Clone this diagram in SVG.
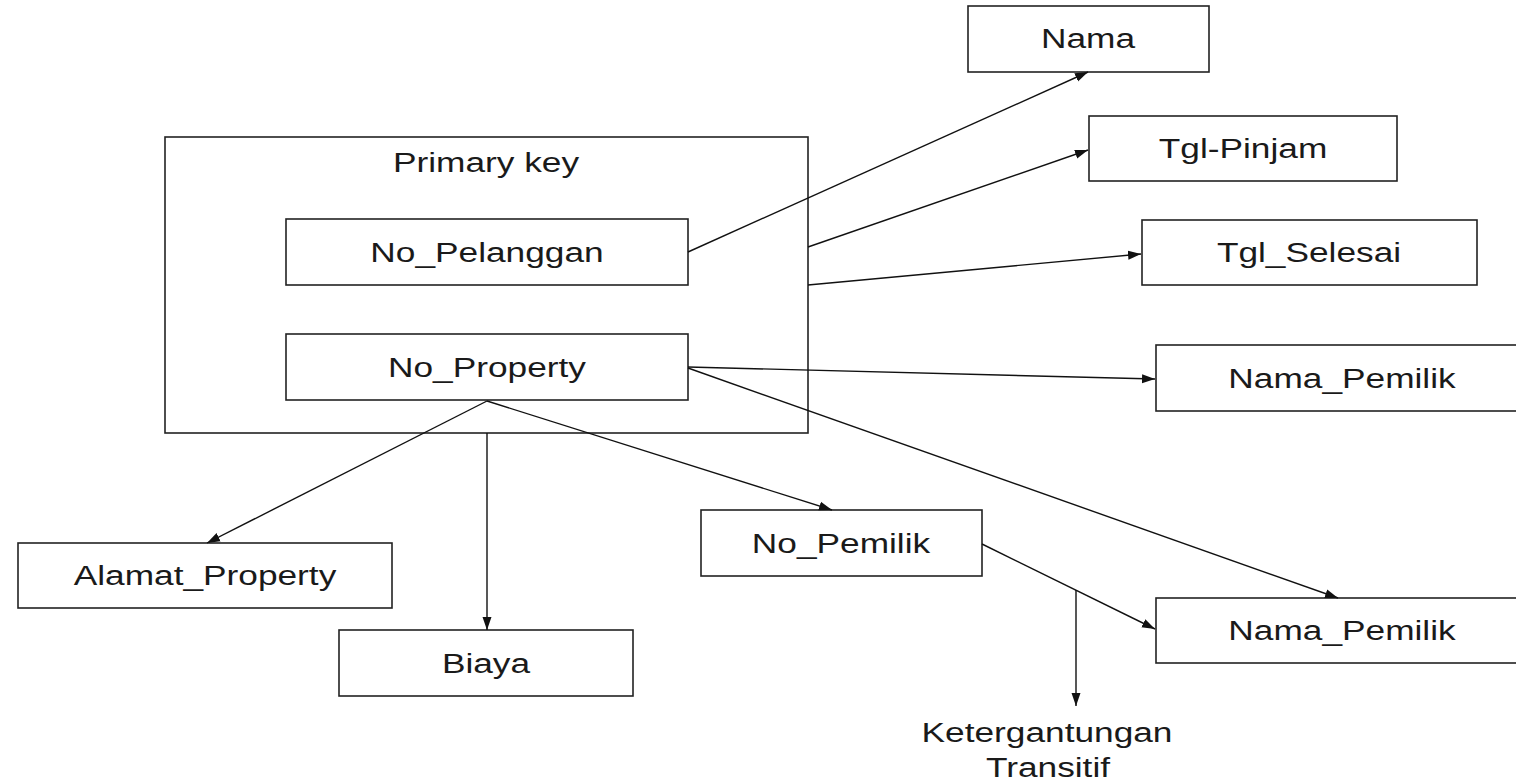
<svg xmlns="http://www.w3.org/2000/svg" width="1516" height="782" viewBox="0 0 1516 782">
<style>
.box{fill:#fff;stroke:#222;stroke-width:1.6}
.lbl{font-family:"Liberation Sans",Arial,sans-serif;font-size:28px;fill:#1a1a1a;text-anchor:middle}
.ln{stroke:#111;stroke-width:1.4;fill:none;marker-end:url(#ah)}
</style>
<defs>
<marker id="ah" markerUnits="userSpaceOnUse" markerWidth="14" markerHeight="10" refX="13" refY="5" orient="auto">
<path d="M0,0.5 L13,5 L0,9.5 z" fill="#111"/>
</marker>
</defs>
<rect width="1516" height="782" fill="#fff"/>
<g id="primary-key">
<rect class="box" x="165" y="137" width="643" height="296"/>
<text class="lbl" transform="translate(486 172) scale(1.26 1)">Primary key</text>
</g>
<g id="no-pelanggan">
<rect class="box" x="286" y="219" width="402" height="66"/>
<text class="lbl" transform="translate(487 262) scale(1.26 1)">No_Pelanggan</text>
</g>
<g id="no-property">
<rect class="box" x="286" y="334" width="402" height="66"/>
<text class="lbl" transform="translate(487 377) scale(1.26 1)">No_Property</text>
</g>
<g id="nama">
<rect class="box" x="968" y="6" width="241" height="66"/>
<text class="lbl" transform="translate(1088 48) scale(1.26 1)">Nama</text>
</g>
<g id="tgl-pinjam">
<rect class="box" x="1089" y="116" width="308" height="65"/>
<text class="lbl" transform="translate(1243 158) scale(1.26 1)">Tgl-Pinjam</text>
</g>
<g id="tgl-selesai">
<rect class="box" x="1142" y="220" width="335" height="65"/>
<text class="lbl" transform="translate(1309 262) scale(1.26 1)">Tgl_Selesai</text>
</g>
<g id="nama-pemilik-1">
<rect class="box" x="1156" y="345" width="380" height="66"/>
<text class="lbl" transform="translate(1342 388) scale(1.26 1)">Nama_Pemilik</text>
</g>
<g id="no-pemilik">
<rect class="box" x="701" y="510" width="281" height="66"/>
<text class="lbl" transform="translate(841 553) scale(1.26 1)">No_Pemilik</text>
</g>
<g id="nama-pemilik-2">
<rect class="box" x="1156" y="598" width="380" height="65"/>
<text class="lbl" transform="translate(1342 640) scale(1.26 1)">Nama_Pemilik</text>
</g>
<g id="alamat-property">
<rect class="box" x="18" y="543" width="374" height="65"/>
<text class="lbl" transform="translate(205 585) scale(1.26 1)">Alamat_Property</text>
</g>
<g id="biaya">
<rect class="box" x="339" y="630" width="294" height="66"/>
<text class="lbl" transform="translate(486 673) scale(1.26 1)">Biaya</text>
</g>
<g id="ketergantungan-transitif">
<text class="lbl" transform="translate(1047 742) scale(1.26 1)">Ketergantungan</text>
<text class="lbl" transform="translate(1048 777) scale(1.26 1)">Transitif</text>
</g>
<g id="connectors">
<line class="ln" x1="688" y1="252" x2="1088" y2="72"/>
<line class="ln" x1="808" y1="247" x2="1088" y2="150"/>
<line class="ln" x1="808" y1="285" x2="1141" y2="254"/>
<line class="ln" x1="688" y1="367" x2="1155" y2="379"/>
<line class="ln" x1="688" y1="368" x2="1338" y2="598"/>
<line class="ln" x1="487" y1="401" x2="832" y2="510"/>
<line class="ln" x1="487" y1="401" x2="207" y2="543"/>
<line class="ln" x1="487" y1="433" x2="487" y2="630"/>
<line class="ln" x1="982" y1="544" x2="1155" y2="629"/>
<line class="ln" x1="1076" y1="590" x2="1076" y2="706"/>
</g>
</svg>
